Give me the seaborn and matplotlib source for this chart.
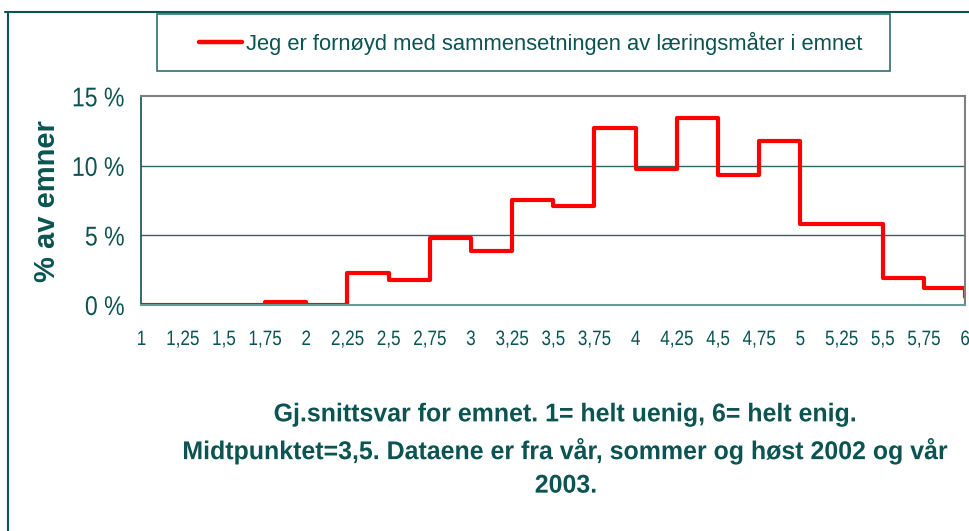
import matplotlib
matplotlib.use("Agg")
import matplotlib.pyplot as plt
import matplotlib.patheffects as pe
from matplotlib.transforms import Affine2D
import seaborn as sns
import pandas as pd

# gjennomsnitt per emne, bins på 0,25 (startpunkt for hver bin)
bin_start = [1.0, 1.25, 1.5, 1.75, 2.0, 2.25, 2.5, 2.75, 3.0, 3.25,
             3.5, 3.75, 4.0, 4.25, 4.5, 4.75, 5.0, 5.25, 5.5, 5.75]
andel = [0.0, 0.0, 0.0, 0.2, 0.0, 2.3, 1.8, 4.85, 3.9, 7.55,
         7.15, 12.7, 9.8, 13.45, 9.35, 11.8, 5.85, 5.85, 1.95, 1.2]
slutt_x = 6.0

x_ticks = [1, 1.25, 1.5, 1.75, 2, 2.25, 2.5, 2.75, 3, 3.25, 3.5,
           3.75, 4, 4.25, 4.5, 4.75, 5, 5.25, 5.5, 5.75, 6]
x_labels = ['1', '1,25', '1,5', '1,75', '2', '2,25', '2,5', '2,75', '3',
            '3,25', '3,5', '3,75', '4', '4,25', '4,5', '4,75', '5', '5,25',
            '5,5', '5,75', '6']
y_ticks = [0, 5, 10, 15]
y_labels = ['0 %', '5 %', '10 %', '15 %']

serie_navn = 'Jeg er fornøyd med sammensetningen av læringsmåter i emnet'
x_tittel = ('Gj.snittsvar for emnet. 1= helt uenig, 6= helt enig.\n'
            'Midtpunktet=3,5. Dataene er fra vår, sommer og høst 2002 og vår\n'
            '2003.')
y_tittel = '% av emner'

# trappelinje: siste bin holdes ut til 6 og faller så ned til 0
df = pd.DataFrame({
    'x': bin_start + [slutt_x, slutt_x],
    'y': andel + [andel[-1], 0.0],
    'serie': serie_navn,
})


class Smal(pe.AbstractPathEffect):
    """klemmer teksten sammen på tvers, litt som Arial Narrow"""
    def __init__(self, sx=0.85, anker='center'):
        super().__init__()
        self.sx = sx
        self.anker = anker

    def draw_path(self, renderer, gc, tpath, affine, rgbFace=None):
        ext = tpath.get_extents(affine)
        if self.anker == 'left':
            x0 = ext.x0
        elif self.anker == 'right':
            x0 = ext.x1
        else:
            x0 = (ext.x0 + ext.x1) / 2
        ny = affine + Affine2D().translate(-x0, 0).scale(self.sx, 1).translate(x0, 0)
        renderer.draw_path(gc, tpath, ny, rgbFace)


sns.set_theme(style="white")
plt.rcParams['font.family'] = ['Liberation Sans', 'DejaVu Sans']

teal = '#0b5451'
graa = '#808080'

fig = plt.figure(figsize=(9.69, 5.31), dpi=100)
ax = fig.add_axes([0.146, 0.4256, 0.85, 0.393])

sns.lineplot(data=df, x='x', y='y', hue='serie', palette=['#ff0000'],
             drawstyle='steps-post', sort=False, linewidth=3, ax=ax,
             legend=True)

ax.set_xlim(1, 6)
ax.set_ylim(0, 15)
ax.set_xticks(x_ticks)
ax.set_xticklabels(x_labels, fontsize=15, color=teal,
                   path_effects=[Smal(0.82, 'center')])
ax.set_yticks(y_ticks)
ax.set_yticklabels(y_labels, fontsize=19.5, color=teal,
                   path_effects=[Smal(0.85, 'right')])
ax.tick_params(axis='x', direction='out', length=5, width=1, color='#6a9a98', pad=13)
ax.tick_params(axis='y', direction='out', length=6, width=1, color=teal, pad=6)
ax.set_xlabel('')
ax.set_ylabel(y_tittel, fontsize=21, fontweight='bold', color=teal, labelpad=1)

for y in [5, 10]:
    ax.axhline(y, color='#2a6663', linewidth=1, zorder=0)

for side in ['top', 'right', 'bottom']:
    ax.spines[side].set_color(graa)
    ax.spines[side].set_linewidth(1.5)
ax.spines['left'].set_color(teal)
ax.spines['left'].set_linewidth(1.2)
ax.spines['bottom'].set_color('#6a9a98')

# legenden over plottet, rammen tegnes for seg
h, l = ax.get_legend_handles_labels()
ax.get_legend().remove()
leg = fig.legend(h, l, loc='center left', bbox_to_anchor=(199 / 969, 1 - 43 / 531),
                 fontsize=15.8, frameon=False, borderpad=0, borderaxespad=0,
                 handlelength=1.95, handletextpad=0.2)
for t in leg.get_texts():
    t.set_color(teal)
for ln in leg.get_lines():
    ln.set_linewidth(3.2)
fig.add_artist(plt.Rectangle((157 / 969, 1 - 71 / 531), (890 - 157) / 969, 57 / 531,
                             transform=fig.transFigure, fill=False,
                             edgecolor='#2f6f6c', linewidth=1.2))

fig.text(566 / 969, 1 - 450 / 531, x_tittel, ha='center', va='center',
         fontsize=18.5, fontweight='bold', color=teal, linespacing=1.5,
         path_effects=[Smal(0.97, 'center')])

# ramme rundt hele figuren (bare topp og venstre synlig)
fig.add_artist(plt.Line2D([5 / 969, 1], [1 - 12 / 531, 1 - 12 / 531],
                          transform=fig.transFigure, color=teal, linewidth=1.5))
fig.add_artist(plt.Line2D([8 / 969, 8 / 969], [0, 1 - 12 / 531],
                          transform=fig.transFigure, color=teal, linewidth=1.5))

fig.savefig('out.png', dpi=100)
